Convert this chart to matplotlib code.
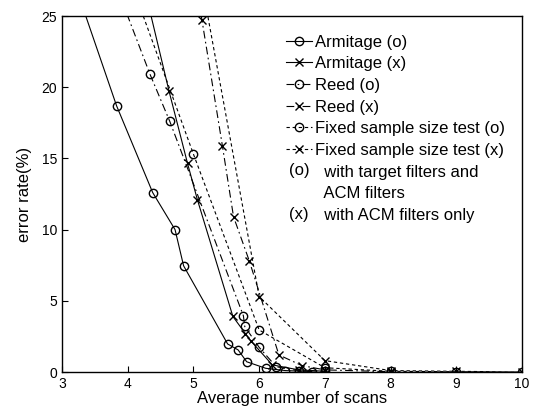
import matplotlib
matplotlib.use("Agg")
import matplotlib.pyplot as plt
import matplotlib.text as mtext
from matplotlib.legend_handler import HandlerBase

# values (average scans, error rate %)
arm_o_x = [3.25, 3.83, 4.38, 4.72, 4.85, 5.52, 5.68, 5.81, 6.10, 6.40, 6.80]
arm_o_y = [26.5, 18.7, 12.6, 10.0, 7.46, 1.97, 1.55, 0.72, 0.26, 0.10, 0.03]

arm_x_x = [4.20, 4.63, 4.91, 5.06, 5.60, 5.79, 5.87, 6.20, 6.60, 7.00]
arm_x_y = [28.0, 19.7, 14.65, 12.1, 3.9, 2.7, 2.2, 0.5, 0.15, 0.05]

reed_o_x = [3.90, 4.34, 4.64, 5.76, 5.78, 6.00, 6.26, 6.60, 7.00]
reed_o_y = [26.2, 20.9, 17.6, 3.95, 3.2, 1.73, 0.37, 0.10, 0.05]

reed_x_x = [5.05, 5.13, 5.44, 5.61, 5.85, 6.30, 6.65, 7.00, 8.00]
reed_x_y = [27.0, 24.7, 15.9, 10.9, 7.8, 1.2, 0.45, 0.15, 0.02]

fix_o_x = [4, 5, 6, 7, 8, 9, 10]
fix_o_y = [28.0, 15.3, 2.95, 0.3, 0.05, 0.02, 0.0]

fix_x_x = [5, 6, 7, 8, 9, 10]
fix_x_y = [30.5, 5.3, 0.8, 0.1, 0.05, 0.0]

labels = ['Armitage (o)', 'Armitage (x)', 'Reed (o)', 'Reed (x)',
          'Fixed sample size test (o)', 'Fixed sample size test (x)']
note_keys = ['(o)', '', '(x)']
notes = ['with target filters and', 'ACM filters', 'with ACM filters only']


class TextHandler(HandlerBase):
    # draws the "(o)" / "(x)" key text where a line sample would go
    def create_artists(self, legend, orig_handle, xdescent, ydescent,
                       width, height, fontsize, trans):
        t = mtext.Text(width / 2 - xdescent, height / 2 - ydescent,
                       orig_handle.get_text(), ha='center', va='center',
                       fontsize=fontsize, transform=trans)
        return [t]


plt.rcParams['font.family'] = ['Liberation Sans', 'DejaVu Sans']
plt.rcParams['font.size'] = 10

fig = plt.figure(figsize=(5.41, 4.15), dpi=100)
ax = fig.add_axes([0.1146, 0.1036, 0.8504, 0.8578])

reed_ls = (0, (7, 3, 1.5, 3))
fix_ls = (0, (3, 2.5))
kw = dict(color='black', linewidth=0.8, markersize=6)

h1, = ax.plot(arm_o_x, arm_o_y, linestyle='-', marker='o', fillstyle='none', **kw)
h2, = ax.plot(arm_x_x, arm_x_y, linestyle='-', marker='x', **kw)
h3, = ax.plot(reed_o_x, reed_o_y, linestyle=reed_ls, marker='o', fillstyle='none', **kw)
h4, = ax.plot(reed_x_x, reed_x_y, linestyle=reed_ls, marker='x', **kw)
h5, = ax.plot(fix_o_x, fix_o_y, linestyle=fix_ls, marker='o', fillstyle='none', **kw)
h6, = ax.plot(fix_x_x, fix_x_y, linestyle=fix_ls, marker='x', **kw)

ax.set_xlim(3, 10)
ax.set_ylim(0, 25)
ax.set_xticks(range(3, 11))
ax.set_yticks([0, 5, 10, 15, 20, 25])
ax.tick_params(direction='in', length=4, width=0.8, labelsize=10)
for s in ax.spines.values():
    s.set_linewidth(1.0)

ax.set_xlabel('Average number of scans', fontsize=12, labelpad=0)
ax.set_ylabel('error rate(%)', fontsize=12, labelpad=7)

key_handles = [mtext.Text(text=k) for k in note_keys]
leg = ax.legend([h1, h2, h3, h4, h5, h6] + key_handles,
                labels + ['  ' + n for n in notes],
                handler_map={mtext.Text: TextHandler()},
                loc='upper right', bbox_to_anchor=(0.995, 0.99),
                borderaxespad=0, fancybox=False, framealpha=1,
                edgecolor='none', facecolor='white',
                handlelength=1.6, handletextpad=0.15,
                labelspacing=0.4, borderpad=0.9, fontsize=12)

fig.savefig('out.png', dpi=100)
